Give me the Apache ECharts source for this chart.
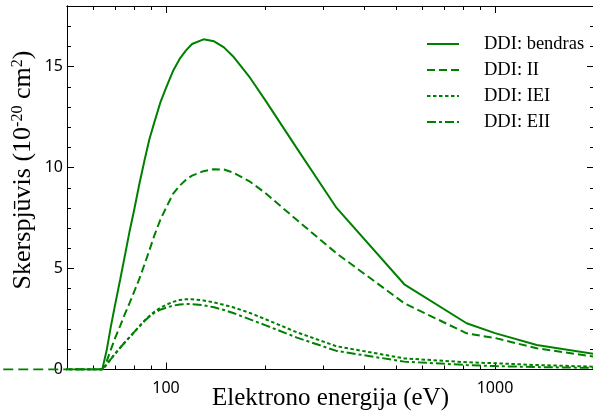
<!DOCTYPE html>
<html>
<head>
<meta charset="utf-8">
<script src="https://cdn.jsdelivr.net/npm/echarts@6/dist/echarts.min.js"></script>
<style>
  html, body { margin: 0; padding: 0; background: #fff; }
  #main { width: 593px; height: 414px; }
</style>
</head>
<body>
<div id="main"></div>
<script>
// elektrono energija (eV)
var energy = [32, 50, 60, 64, 66, 68, 70, 72.5, 75, 77.5, 80, 83, 86, 89, 92, 96, 100, 105, 110, 115, 120, 130, 140, 150, 160, 180, 200, 250, 330, 530, 820, 1000, 1340, 2000];

// skerspjuvis, 10^-20 cm^2
var bendras = [0, 0, 0, 0, 0.95, 2.15, 3.2, 4.43, 5.65, 6.85, 7.9, 9.2, 10.35, 11.4, 12.2, 13.2, 13.95, 14.78, 15.38, 15.8, 16.12, 16.35, 16.25, 15.95, 15.5, 14.45, 13.35, 10.95, 8.0, 4.22, 2.29, 1.8, 1.21, 0.77];
var ii = [0, 0, 0, 0, 0.4, 1.0, 1.55, 2.15, 2.75, 3.3, 3.85, 4.5, 5.2, 5.9, 6.6, 7.4, 8.0, 8.7, 9.1, 9.4, 9.6, 9.82, 9.92, 9.9, 9.75, 9.3, 8.75, 7.4, 5.75, 3.28, 1.79, 1.56, 1.05, 0.64];
var iei = [0, 0, 0, 0, 0.25, 0.52, 0.78, 1.07, 1.35, 1.6, 1.85, 2.15, 2.42, 2.65, 2.85, 3.05, 3.2, 3.35, 3.44, 3.48, 3.48, 3.42, 3.32, 3.2, 3.08, 2.8, 2.5, 1.84, 1.15, 0.55, 0.36, 0.31, 0.22, 0.14];
var eii = [0, 0, 0, 0, 0.25, 0.52, 0.78, 1.07, 1.35, 1.6, 1.85, 2.13, 2.4, 2.62, 2.8, 2.96, 3.06, 3.16, 3.22, 3.24, 3.24, 3.18, 3.08, 2.95, 2.8, 2.48, 2.2, 1.58, 0.92, 0.39, 0.22, 0.17, 0.12, 0.08];

var seriesNames = ['DDI: bendras', 'DDI: II', 'DDI: IEI', 'DDI: EII'];

// ticks
var xMajor = [100, 1000];
var xMinor = [60, 70, 80, 90, 200, 300, 400, 500, 600, 700, 800, 900, 2000];
var yMajor = [0, 5, 10, 15];
var yMinor = [1, 2, 3, 4, 6, 7, 8, 9, 11, 12, 13, 14, 16, 17];

var green = '#008000';

function pairs(ys) {
    return energy.map(function (e, i) { return [e, ys[i]]; });
}

function xAxis(pos, ticks, len, labels) {
    return {
        type: 'log',
        min: 50,
        max: 2000,
        position: pos,
        axisLine: { show: true, onZero: false, lineStyle: { color: '#000', width: 1 } },
        axisTick: { show: true, inside: true, length: len, customValues: ticks, lineStyle: { color: '#000' } },
        axisLabel: labels ? {
            customValues: ticks, color: '#000', fontFamily: 'Noto Sans', fontSize: 16, margin: 11,
            formatter: function (v) { return String(v); }
        } : { show: false },
        splitLine: { show: false },
        minorTick: { show: false }
    };
}

function yAxis(pos, ticks, len, labels) {
    return {
        type: 'value',
        min: 0,
        max: 18,
        position: pos,
        axisLine: { show: true, onZero: false, lineStyle: { color: '#000', width: 1 } },
        axisTick: { show: true, inside: true, length: len, customValues: ticks, lineStyle: { color: '#000' } },
        axisLabel: labels ? {
            customValues: ticks, color: '#000', fontFamily: 'Noto Sans', fontSize: 16, margin: 4
        } : { show: false },
        splitLine: { show: false }
    };
}

var chart = echarts.init(document.getElementById('main'));

var xBottom = xAxis('bottom', xMajor, 7, true);
xBottom.name = 'Elektrono energija (eV)';
xBottom.nameLocation = 'middle';
xBottom.nameGap = 16;
xBottom.nameMoveOverlap = false;
xBottom.nameTextStyle = { fontFamily: 'Liberation Serif', fontSize: 25, color: '#000', verticalAlign: 'top' };

// the II curve runs on past the left edge of the frame (not clipped in the original),
// so a second, hidden strip of log axis continues the scale to the left of the frame
var leftStripMin = 31.28;

var option = {
    animation: false,
    backgroundColor: '#fff',
    grid: [
        { left: 67, right: -1, top: 6, bottom: 44.5, containLabel: false, outerBoundsMode: 'none' },
        { left: 0, width: 67, top: 6, bottom: 44.5, containLabel: false, outerBoundsMode: 'none' }
    ],
    legend: {
        orient: 'vertical',
        left: 426,
        top: 34,
        padding: 0,
        itemWidth: 32,
        itemHeight: 10,
        itemGap: 6,
        itemStyle: { opacity: 0 },
        textStyle: { fontFamily: 'Liberation Serif', fontSize: 18.5, color: '#000', lineHeight: 20, padding: [0, 0, 0, 20] },
        data: seriesNames
    },
    xAxis: [
        xBottom,
        xAxis('bottom', xMinor, 4, false),
        xAxis('top', xMajor, 7, false),
        xAxis('top', xMinor, 4, false),
        { type: 'log', gridIndex: 1, min: leftStripMin, max: 50, show: false }
    ],
    yAxis: [
        yAxis('left', yMajor, 7, true),
        yAxis('left', yMinor, 4, false),
        yAxis('right', yMajor, 7, false),
        yAxis('right', yMinor, 4, false),
        { type: 'value', gridIndex: 1, min: 0, max: 18, show: false }
    ],
    graphic: [{
        type: 'text',
        x: 23,
        y: 170,
        rotation: Math.PI / 2,
        style: {
            text: 'Skerspjūvis (10{sup|-20} cm{sup|2})',
            fontFamily: 'Liberation Serif',
            fontSize: 26,
            fill: '#000',
            align: 'center',
            verticalAlign: 'middle',
            rich: {
                sup: { fontFamily: 'Liberation Serif', fontSize: 16, fill: '#000', verticalAlign: 'top', padding: [0, 0, 9, 0] }
            }
        }
    }],
    series: [
        {
            name: seriesNames[0], type: 'line', data: pairs(bendras), showSymbol: false, symbol: 'none',
            lineStyle: { color: green, width: 2, type: 'solid' }, itemStyle: { color: green }
        },
        {
            name: seriesNames[1], type: 'line', data: pairs(ii), showSymbol: false, symbol: 'none',
            lineStyle: { color: green, width: 2, type: [8, 4] }, itemStyle: { color: green }
        },
        {
            name: seriesNames[2], type: 'line', data: pairs(iei), showSymbol: false, symbol: 'none',
            lineStyle: { color: green, width: 2, type: [3.5, 2.5] }, itemStyle: { color: green }
        },
        {
            name: seriesNames[3], type: 'line', data: pairs(eii), showSymbol: false, symbol: 'none',
            lineStyle: { color: green, width: 2, type: [9, 3, 3, 3] }, itemStyle: { color: green }
        },
        {
            name: seriesNames[1], type: 'line', xAxisIndex: 4, yAxisIndex: 4,
            data: pairs(ii).filter(function (p) { return p[0] <= 50; }),
            showSymbol: false, symbol: 'none', z: 1,
            lineStyle: { color: green, width: 2, type: [10, 5] }, itemStyle: { color: green }
        }
    ]
};

chart.setOption(option);
</script>
</body>
</html>
